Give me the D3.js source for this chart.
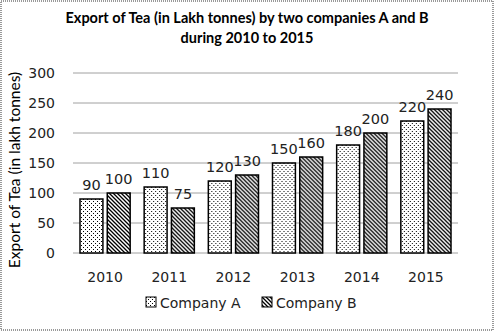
<!DOCTYPE html>
<html>
<head>
<meta charset="utf-8">
<script src="https://cdn.jsdelivr.net/npm/d3@7"></script>
<style>
  body { margin: 0; background: #fff; }
  svg { display: block; font-family: "DejaVu Sans", sans-serif; }
</style>
</head>
<body>
<div id="chart"></div>
<script>
// data
var years = ["2010", "2011", "2012", "2013", "2014", "2015"];
var companyA = [90, 110, 120, 150, 180, 220];
var companyB = [100, 75, 130, 160, 200, 240];
var seriesNames = ["Company A", "Company B"];
var yTicks = [0, 50, 100, 150, 200, 250, 300];

var W = 494, H = 331;
var margin = { top: 73, right: 36, bottom: 78, left: 73 },
  width = W - margin.left - margin.right,
  height = H - margin.top - margin.bottom;

var svg = d3.select("#chart").append("svg")
  .attr("width", W)
  .attr("height", H);

// hatch patterns
var defs = svg.append("defs");
var dots = defs.append("pattern")
  .attr("id", "dots")
  .attr("patternUnits", "userSpaceOnUse")
  .attr("width", 4).attr("height", 4);
dots.append("rect").attr("width", 4).attr("height", 4).attr("fill", "#fff");
dots.append("rect").attr("x", 0).attr("y", 0).attr("width", 1).attr("height", 1).attr("fill", "#000");
dots.append("rect").attr("x", 2).attr("y", 2).attr("width", 1).attr("height", 1).attr("fill", "#000");

var diag = defs.append("pattern")
  .attr("id", "diag")
  .attr("patternUnits", "userSpaceOnUse")
  .attr("width", 4).attr("height", 4);
diag.append("rect").attr("width", 4).attr("height", 4).attr("fill", "#fff");
diag.append("path")
  .attr("d", "M-1,-1 L5,5 M-1,3 L1,5 M3,-1 L5,1")
  .attr("stroke", "#000")
  .attr("stroke-width", 1.3);

var fills = ["url(#dots)", "url(#diag)"];

// outer border
svg.append("rect")
  .attr("x", 1).attr("y", 1)
  .attr("width", W - 2).attr("height", H - 2)
  .attr("fill", "none")
  .attr("stroke", "#999")
  .attr("stroke-width", 2)
  .attr("stroke-dasharray", "1,1");

// title
var title = svg.append("text")
  .attr("text-anchor", "middle")
  .attr("font-family", "Lato, sans-serif")
  .attr("font-weight", "bold")
  .attr("font-size", "14.5px")
  .attr("fill", "#000");
title.append("tspan").attr("x", W / 2).attr("y", 23).text("Export of Tea (in Lakh tonnes) by two  companies A and B");
title.append("tspan").attr("x", W / 2).attr("y", 43).text("during  2010 to 2015");

var g = svg.append("g")
  .attr("transform", "translate(" + margin.left + "," + margin.top + ")");

var x0 = d3.scaleBand()
  .domain(years)
  .range([0, width]);

var x1 = d3.scaleBand()
  .domain(seriesNames)
  .range([7, x0.bandwidth() - 7])
  .paddingInner(0.16);

var y = d3.scaleLinear()
  .domain([0, 300])
  .range([height, 0]);

// gridlines
g.selectAll(".grid")
  .data(yTicks)
  .enter().append("line")
  .attr("x1", 0).attr("x2", width)
  .attr("y1", function(d) { return y(d); })
  .attr("y2", function(d) { return y(d); })
  .attr("stroke", "#a0a0a0")
  .attr("stroke-width", 1);

// y axis labels
var yAxis = g.append("g")
  .call(d3.axisLeft(y).tickValues(yTicks).tickSize(0).tickPadding(18));
yAxis.select(".domain").remove();
yAxis.selectAll("text").attr("font-size", "14px").attr("fill", "#222").attr("font-family", "DejaVu Sans, sans-serif");

// x axis labels
var xAxis = g.append("g")
  .attr("transform", "translate(0," + height + ")")
  .call(d3.axisBottom(x0).tickSize(0).tickPadding(19));
xAxis.select(".domain").remove();
xAxis.selectAll("text").attr("font-size", "14px").attr("fill", "#222").attr("font-family", "DejaVu Sans, sans-serif");

// y axis title
svg.append("text")
  .attr("transform", "translate(20," + 170 + ")rotate(-90)")
  .attr("text-anchor", "middle")
  .attr("font-family", "Lato, sans-serif")
  .attr("font-size", "15.5px")
  .attr("fill", "#000")
  .text("Export of Tea (in lakh tonnes)");

// bars
var rows = years.map(function(yr, i) {
  return { year: yr, values: [companyA[i], companyB[i]] };
});

var groups = g.selectAll(".group")
  .data(rows)
  .enter().append("g")
  .attr("transform", function(d) { return "translate(" + x0(d.year) + ",0)"; });

groups.selectAll("rect")
  .data(function(d) { return d.values.map(function(v, j) { return { name: seriesNames[j], value: v, j: j }; }); })
  .enter().append("rect")
  .attr("x", function(d) { return x1(d.name); })
  .attr("y", function(d) { return y(d.value); })
  .attr("width", x1.bandwidth())
  .attr("height", function(d) { return height - y(d.value); })
  .attr("fill", function(d) { return fills[d.j]; })
  .attr("stroke", "#000")
  .attr("stroke-width", 1.5);

groups.selectAll(".label")
  .data(function(d) { return d.values.map(function(v, j) { return { name: seriesNames[j], value: v }; }); })
  .enter().append("text")
  .attr("class", "label")
  .attr("x", function(d) { return x1(d.name) + x1.bandwidth() / 2; })
  .attr("y", function(d) { return y(d.value) - 9; })
  .attr("text-anchor", "middle")
  .attr("font-size", "14.5px")
  .attr("fill", "#222")
  .text(function(d) { return d.value; });

// legend
var legendX = [146, 262];
var legend = svg.selectAll(".legend")
  .data(seriesNames)
  .enter().append("g")
  .attr("transform", function(d, i) { return "translate(" + legendX[i] + ",297)"; });
legend.append("rect")
  .attr("width", 10).attr("height", 10)
  .attr("fill", function(d, i) { return fills[i]; })
  .attr("stroke", "#000")
  .attr("stroke-width", 1);
legend.append("text")
  .attr("x", 14).attr("y", 10.5)
  .attr("font-size", "14px")
  .attr("fill", "#222")
  .text(function(d) { return d; });
</script>
</body>
</html>
